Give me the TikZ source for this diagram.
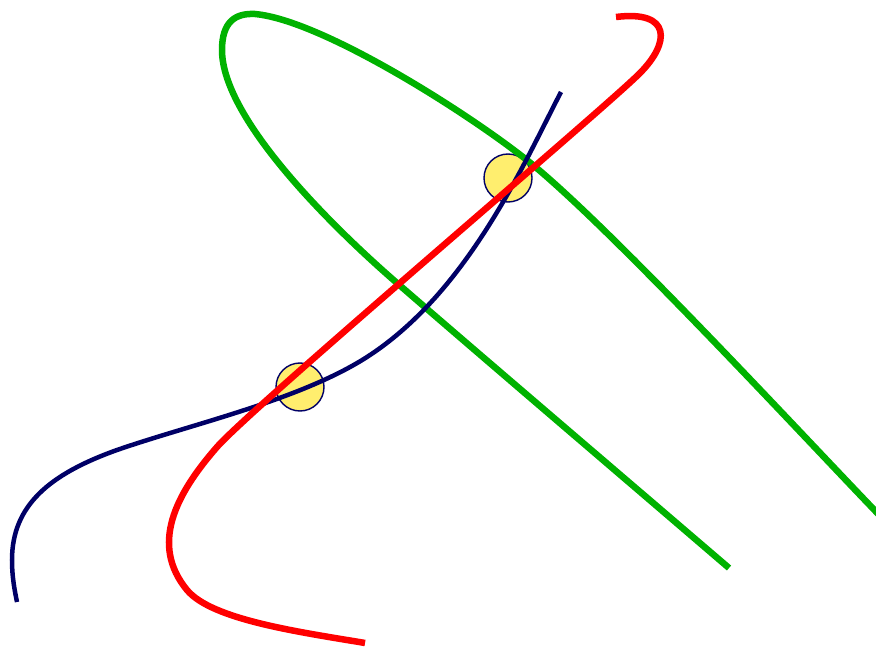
\documentclass[tikz,border=0pt]{standalone}
\begin{document}
\begin{tikzpicture}[x=1pt,y=-1pt,
  curvegreen/.style={draw={rgb,255:red,0;green,178;blue,0}, line width=6.5pt},
  curvered/.style={draw={rgb,255:red,255;green,0;blue,0}, line width=6.5pt},
  curveblue/.style={draw={rgb,255:red,0;green,0;blue,102}, line width=4.5pt},
  spot/.style={circle, minimum size=48pt, inner sep=0pt, draw={rgb,255:red,0;green,0;blue,102}, line width=1.4pt, fill={rgb,255:red,255;green,238;blue,110}}]
\useasboundingbox (0,0) rectangle (876,647);
\clip (0,0) rectangle (876,647);
% intersection markers
\node[spot] (m1) at (508,178) {};
\node[spot] (m2) at (300,387) {};
% green curve
\draw[curvegreen] (729,568) .. controls (630,483) and (480,355) .. (397,283)
  .. controls (337,231) and (222,120) .. (222,50)
  .. controls (222,22) and (235,13) .. (255,14)
  .. controls (320,20) and (460,108) .. (523,157)
  .. controls (602,218) and (801,434) .. (884,520);
% blue curve
\draw[curveblue] (561,92) .. controls (524,163) and (468,292) .. (367,357)
  .. controls (300,400) and (192,424) .. (117,450)
  .. controls (50,474) and (12,505) .. (12,560)
  .. controls (12,578) and (15,592) .. (17,602);
% red curve
\draw[curvered] (616,17) .. controls (672,10) and (670,43) .. (640,73)
  .. controls (610,104) and (252,407) .. (217,447)
  .. controls (175,495) and (150,545) .. (187,590)
  .. controls (212,620) and (300,632) .. (365,643);
\end{tikzpicture}
\end{document}
